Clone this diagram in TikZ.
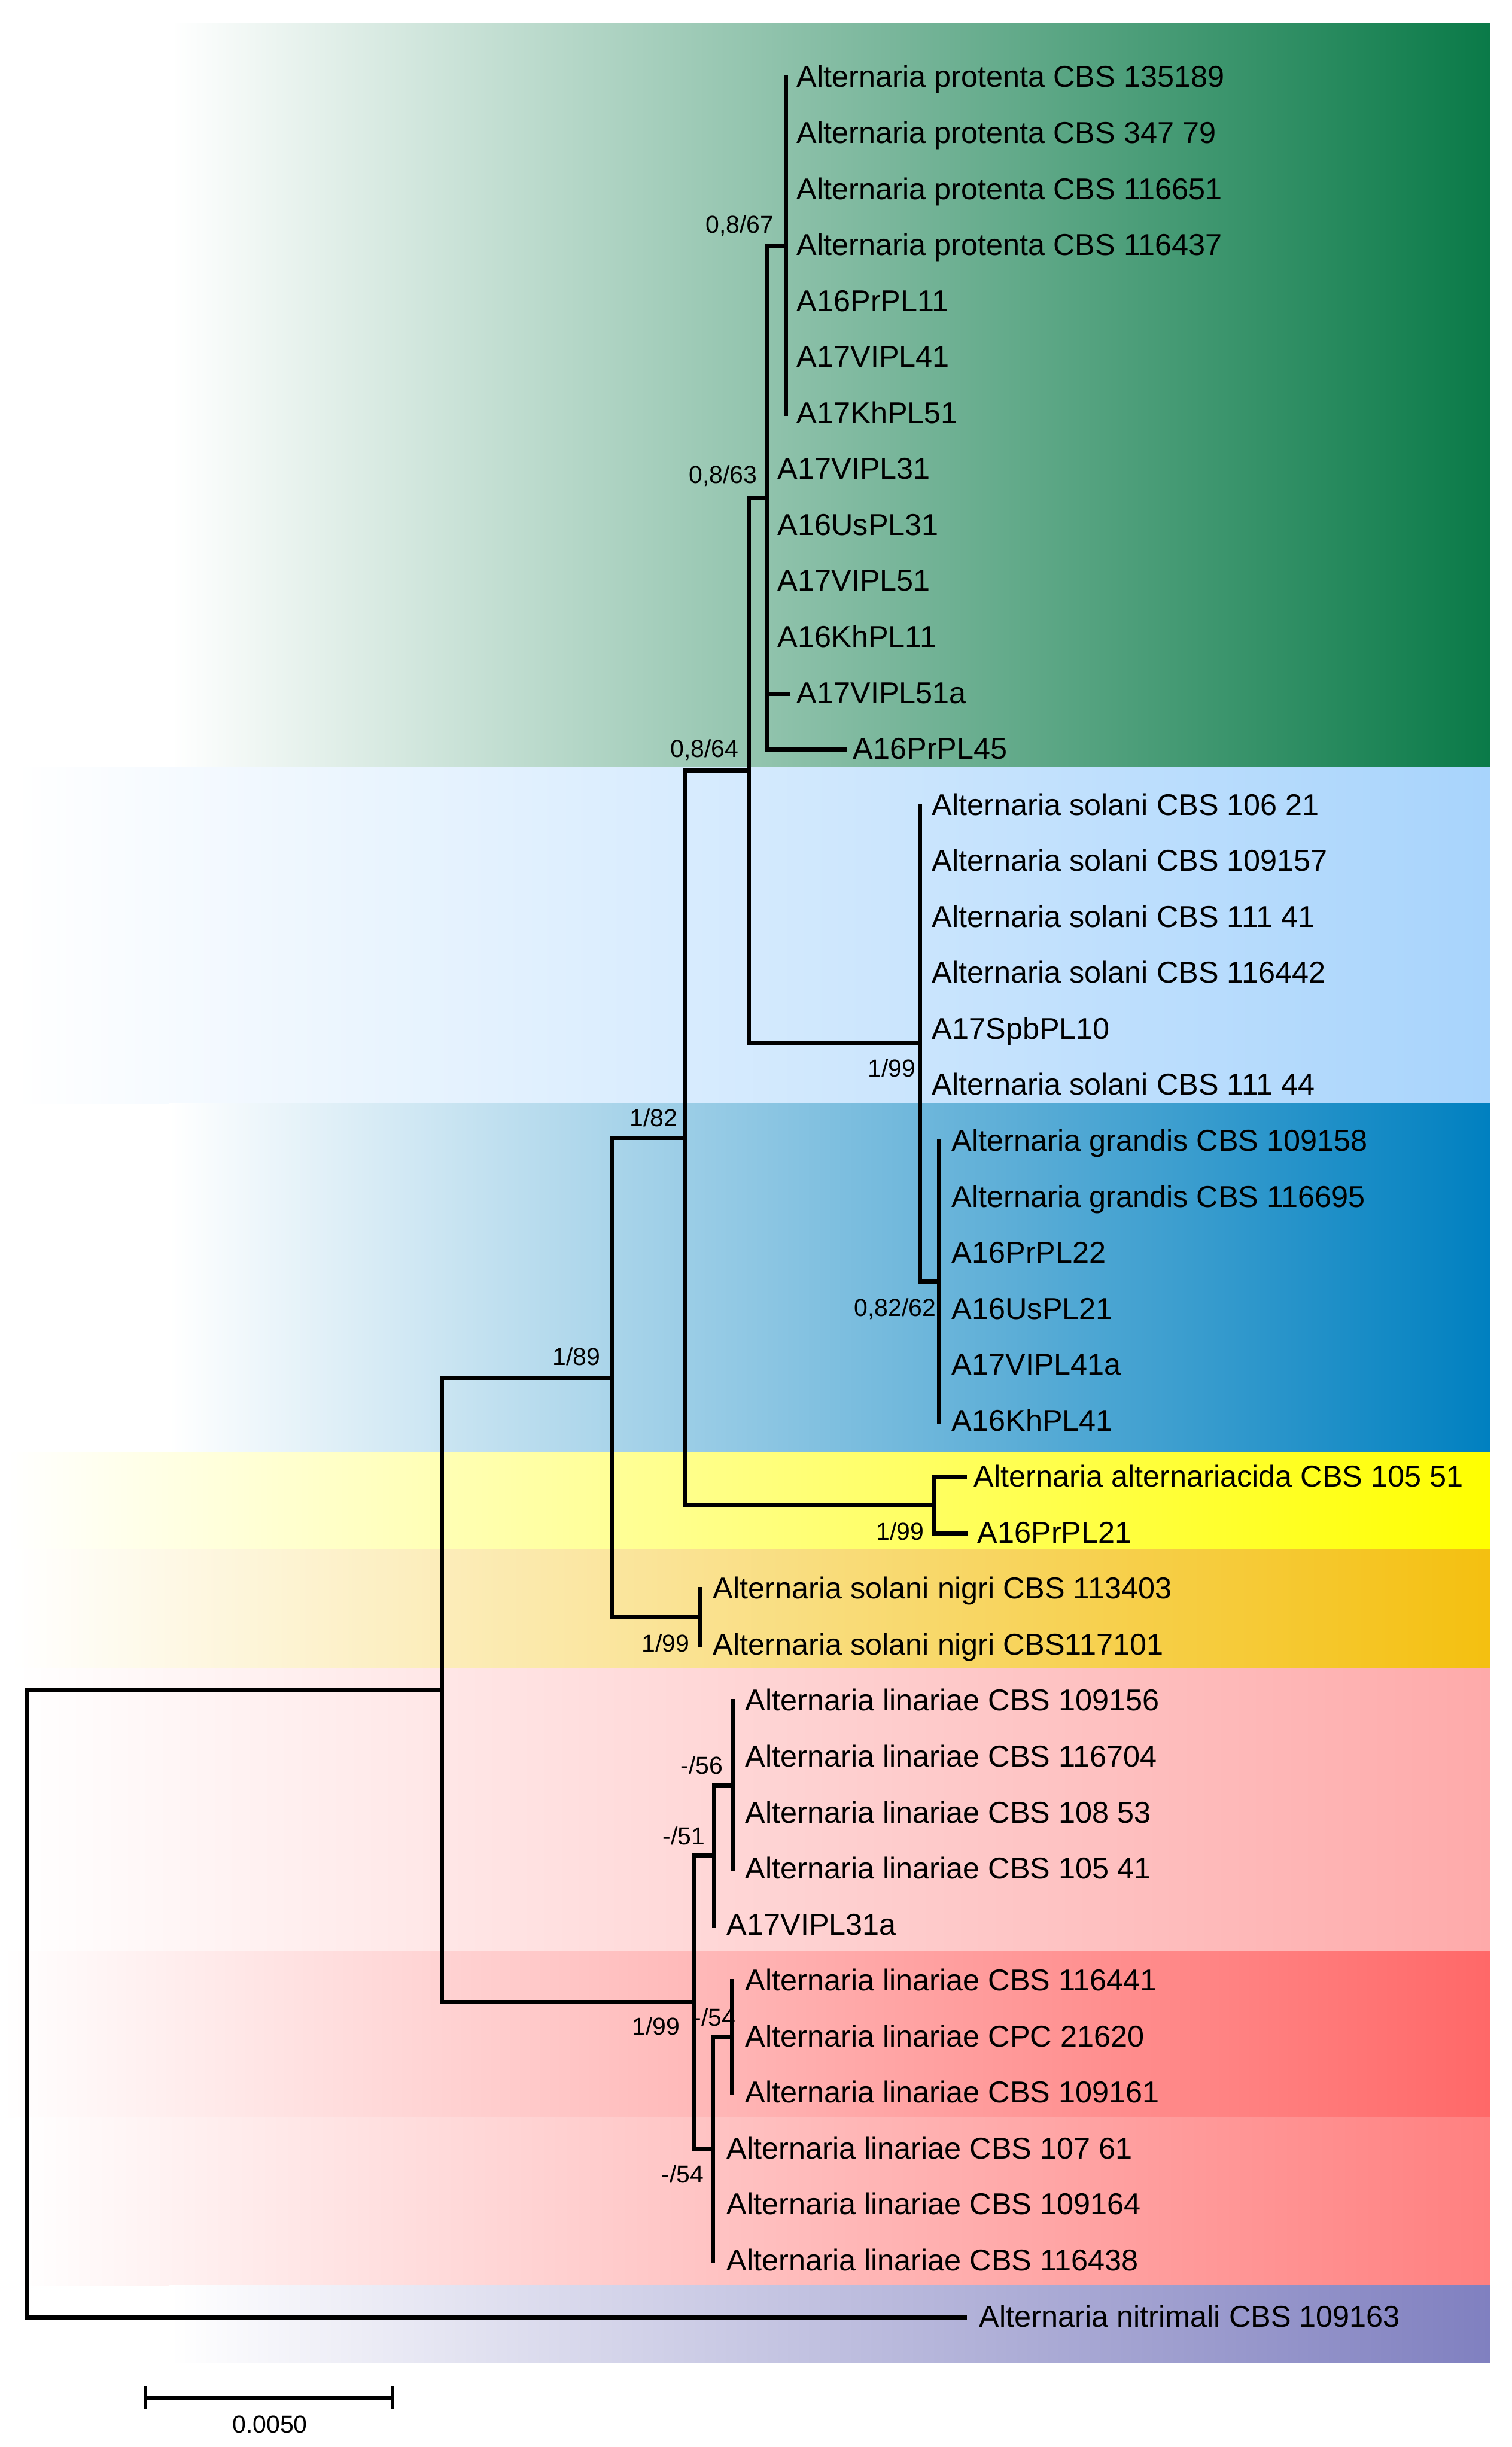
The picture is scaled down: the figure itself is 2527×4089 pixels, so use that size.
\documentclass[tikz,border=0pt]{standalone}
\usepackage{fontspec}
\setmainfont{Liberation Sans}
\definecolor{cgreen}{RGB}{10,122,72}
\definecolor{clblue}{RGB}{168,212,252}
\definecolor{cblue}{RGB}{0,128,192}
\definecolor{cyellow}{RGB}{255,255,0}
\definecolor{cgold}{RGB}{244,192,16}
\definecolor{cpink}{RGB}{254,170,170}
\definecolor{cred}{RGB}{255,104,104}
\definecolor{cpinktwo}{RGB}{255,128,128}
\definecolor{cpurple}{RGB}{128,128,192}
\begin{document}
\begin{tikzpicture}[x=0.25bp,y=-0.25bp,
  br/.style={line width=1.75bp, line join=miter, line cap=rect},
  tick/.style={line width=1.25bp},
  leaf/.style={anchor=base west, inner sep=0pt, font=\fontsize{12.6bp}{15bp}\selectfont},
  bs/.style={anchor=base east, inner sep=0pt, font=\fontsize{10.25bp}{12bp}\selectfont},
  band/.style={left color=white, right color=#1}]
\useasboundingbox (0,0) rectangle (2527,4089);
\fill[white] (0,0) rectangle (2527,4089);
% coloured bands
\shade[band=cgreen]   (287,39)   rectangle (2490,1281);
\shade[band=clblue]   (25,1281)  rectangle (2490,1843);
\shade[band=cblue]    (283,1843) rectangle (2490,2426);
\shade[band=cyellow]  (13,2426)  rectangle (2490,2589);
\shade[band=cgold]    (20,2589)  rectangle (2490,2788);
\shade[band=cpink]    (25,2788)  rectangle (2490,3260);
\shade[band=cred]     (5,3260)   rectangle (2490,3538);
\shade[band=cpinktwo] (25,3538)  rectangle (2490,3819);
\shade[band=cpurple]  (283,3819) rectangle (2490,3948);
% internal nodes
\coordinate (root) at (45,3348);
\coordinate (r1)   at (738,2824);
\coordinate (n89)  at (1022,2302.1);
\coordinate (n82)  at (1145,1901.6);
\coordinate (n64)  at (1251,1287.7);
\coordinate (n63)  at (1282,831.6);
\coordinate (np)   at (1313,410.65);
\coordinate (ns)   at (1537,1743.7);
\coordinate (ng)   at (1569,2141.3);
\coordinate (nac)  at (1560,2515.5);
\coordinate (nsn)  at (1170,2702.6);
\coordinate (l99)  at (1160,3345.8);
\coordinate (l51)  at (1193,3100.2);
\coordinate (l56)  at (1224,2983.3);
\coordinate (l54b) at (1191,3591.35);
\coordinate (l54a) at (1223,3404.25);
% leaves
\foreach \i/\tx/\lx/\txt in {
1/1313/1331/Alternaria protenta CBS 135189,
2/1313/1331/Alternaria protenta CBS 347 79,
3/1313/1331/Alternaria protenta CBS 116651,
4/1313/1331/Alternaria protenta CBS 116437,
5/1313/1331/A16PrPL11,
6/1313/1331/A17VIPL41,
7/1313/1331/A17KhPL51,
8/1282/1299/A17VIPL31,
9/1282/1299/A16UsPL31,
10/1282/1299/A17VIPL51,
11/1282/1299/A16KhPL11,
12/1317/1331/A17VIPL51a,
13/1411/1425/A16PrPL45,
14/1537/1557/Alternaria solani CBS 106 21,
15/1537/1557/Alternaria solani CBS 109157,
16/1537/1557/Alternaria solani CBS 111 41,
17/1537/1557/Alternaria solani CBS 116442,
18/1537/1557/A17SpbPL10,
19/1537/1557/Alternaria solani CBS 111 44,
20/1569/1590/Alternaria grandis CBS 109158,
21/1569/1590/Alternaria grandis CBS 116695,
22/1569/1590/A16PrPL22,
23/1569/1590/A16UsPL21,
24/1569/1590/A17VIPL41a,
25/1569/1590/A16KhPL41,
26/1612/1627/Alternaria alternariacida CBS 105 51,
27/1614/1633/A16PrPL21,
28/1170/1191/Alternaria solani nigri CBS 113403,
29/1170/1191/Alternaria solani nigri CBS117101,
30/1224/1245/Alternaria linariae CBS 109156,
31/1224/1245/Alternaria linariae CBS 116704,
32/1224/1245/Alternaria linariae CBS 108 53,
33/1224/1245/Alternaria linariae CBS 105 41,
34/1193/1214/A17VIPL31a,
35/1223/1245/Alternaria linariae CBS 116441,
36/1223/1245/Alternaria linariae CPC 21620,
37/1223/1245/Alternaria linariae CBS 109161,
38/1191/1214/Alternaria linariae CBS 107 61,
39/1191/1214/Alternaria linariae CBS 109164,
40/1191/1214/Alternaria linariae CBS 116438,
41/1612/1636/Alternaria nitrimali CBS 109163}{
  \pgfmathsetmacro\yy{130+(\i-1)*93.55}
  \coordinate (t\i) at (\tx,\yy);
  \node[leaf] (lf\i) at (\lx,\yy+16) {\txt};
}
% branches
\draw[br] (root) |- (r1);
\draw[br] (root) |- (t41);
\draw[br] (r1) |- (n89);
\draw[br] (r1) |- (l99);
\draw[br] (n89) |- (n82);
\draw[br] (n89) |- (nsn);
\draw[br] (n82) |- (n64);
\draw[br] (n82) |- (nac);
\draw[br] (n64) |- (n63);
\draw[br] (n64) |- (ns);
\draw[br] (n63) |- (np);
\foreach \i in {1,...,7} \draw[br] (np) |- (t\i);
\foreach \i in {8,...,13} \draw[br] (n63) |- (t\i);
\draw[br] (ns) |- (ng);
\foreach \i in {14,...,19} \draw[br] (ns) |- (t\i);
\foreach \i in {20,...,25} \draw[br] (ng) |- (t\i);
\draw[br] (nac) |- (t26);
\draw[br] (nac) |- (t27);
\draw[br] (nsn) |- (t28);
\draw[br] (nsn) |- (t29);
\draw[br] (l99) |- (l51);
\draw[br] (l99) |- (l54b);
\draw[br] (l51) |- (l56);
\draw[br] (l51) |- (t34);
\foreach \i in {30,...,33} \draw[br] (l56) |- (t\i);
\draw[br] (l54b) |- (l54a);
\foreach \i in {38,...,40} \draw[br] (l54b) |- (t\i);
\foreach \i in {35,...,37} \draw[br] (l54a) |- (t\i);
% support values
\node[bs] (b1)  at (1294,390)  {0,8/67};
\node[bs] (b2)  at (1266,808)  {0,8/63};
\node[bs] (b3)  at (1235,1265) {0,8/64};
\node[bs] (b4)  at (1531,1799) {1/99};
\node[bs] (b5)  at (1133,1882) {1/82};
\node[bs] (b6)  at (1565,2199) {0,82/62};
\node[bs] (b7)  at (1004,2281) {1/89};
\node[bs] (b8)  at (1545,2573) {1/99};
\node[bs] (b9)  at (1153,2760) {1/99};
\node[bs] (b10) at (1209,2964) {-/56};
\node[bs] (b11) at (1179,3082) {-/51};
\node[bs] (b12) at (1137,3400) {1/99};
\node[bs] (b13) at (1230,3385) {-/54};
\node[bs] (b14) at (1177,3647) {-/54};
% scale bar
\coordinate (sb1) at (242,4006);
\coordinate (sb2) at (656,4006);
\coordinate (sb1t) at (242,3987);
\coordinate (sb1b) at (242,4026);
\coordinate (sb2t) at (656,3987);
\coordinate (sb2b) at (656,4026);
\draw[br,line cap=butt] (sb1) -- (sb2);
\draw[tick] (sb1t) -- (sb1b);
\draw[tick] (sb2t) -- (sb2b);
\node[bs,anchor=base] (sbl) at (451,4065) {0.0050};
\end{tikzpicture}
\end{document}
